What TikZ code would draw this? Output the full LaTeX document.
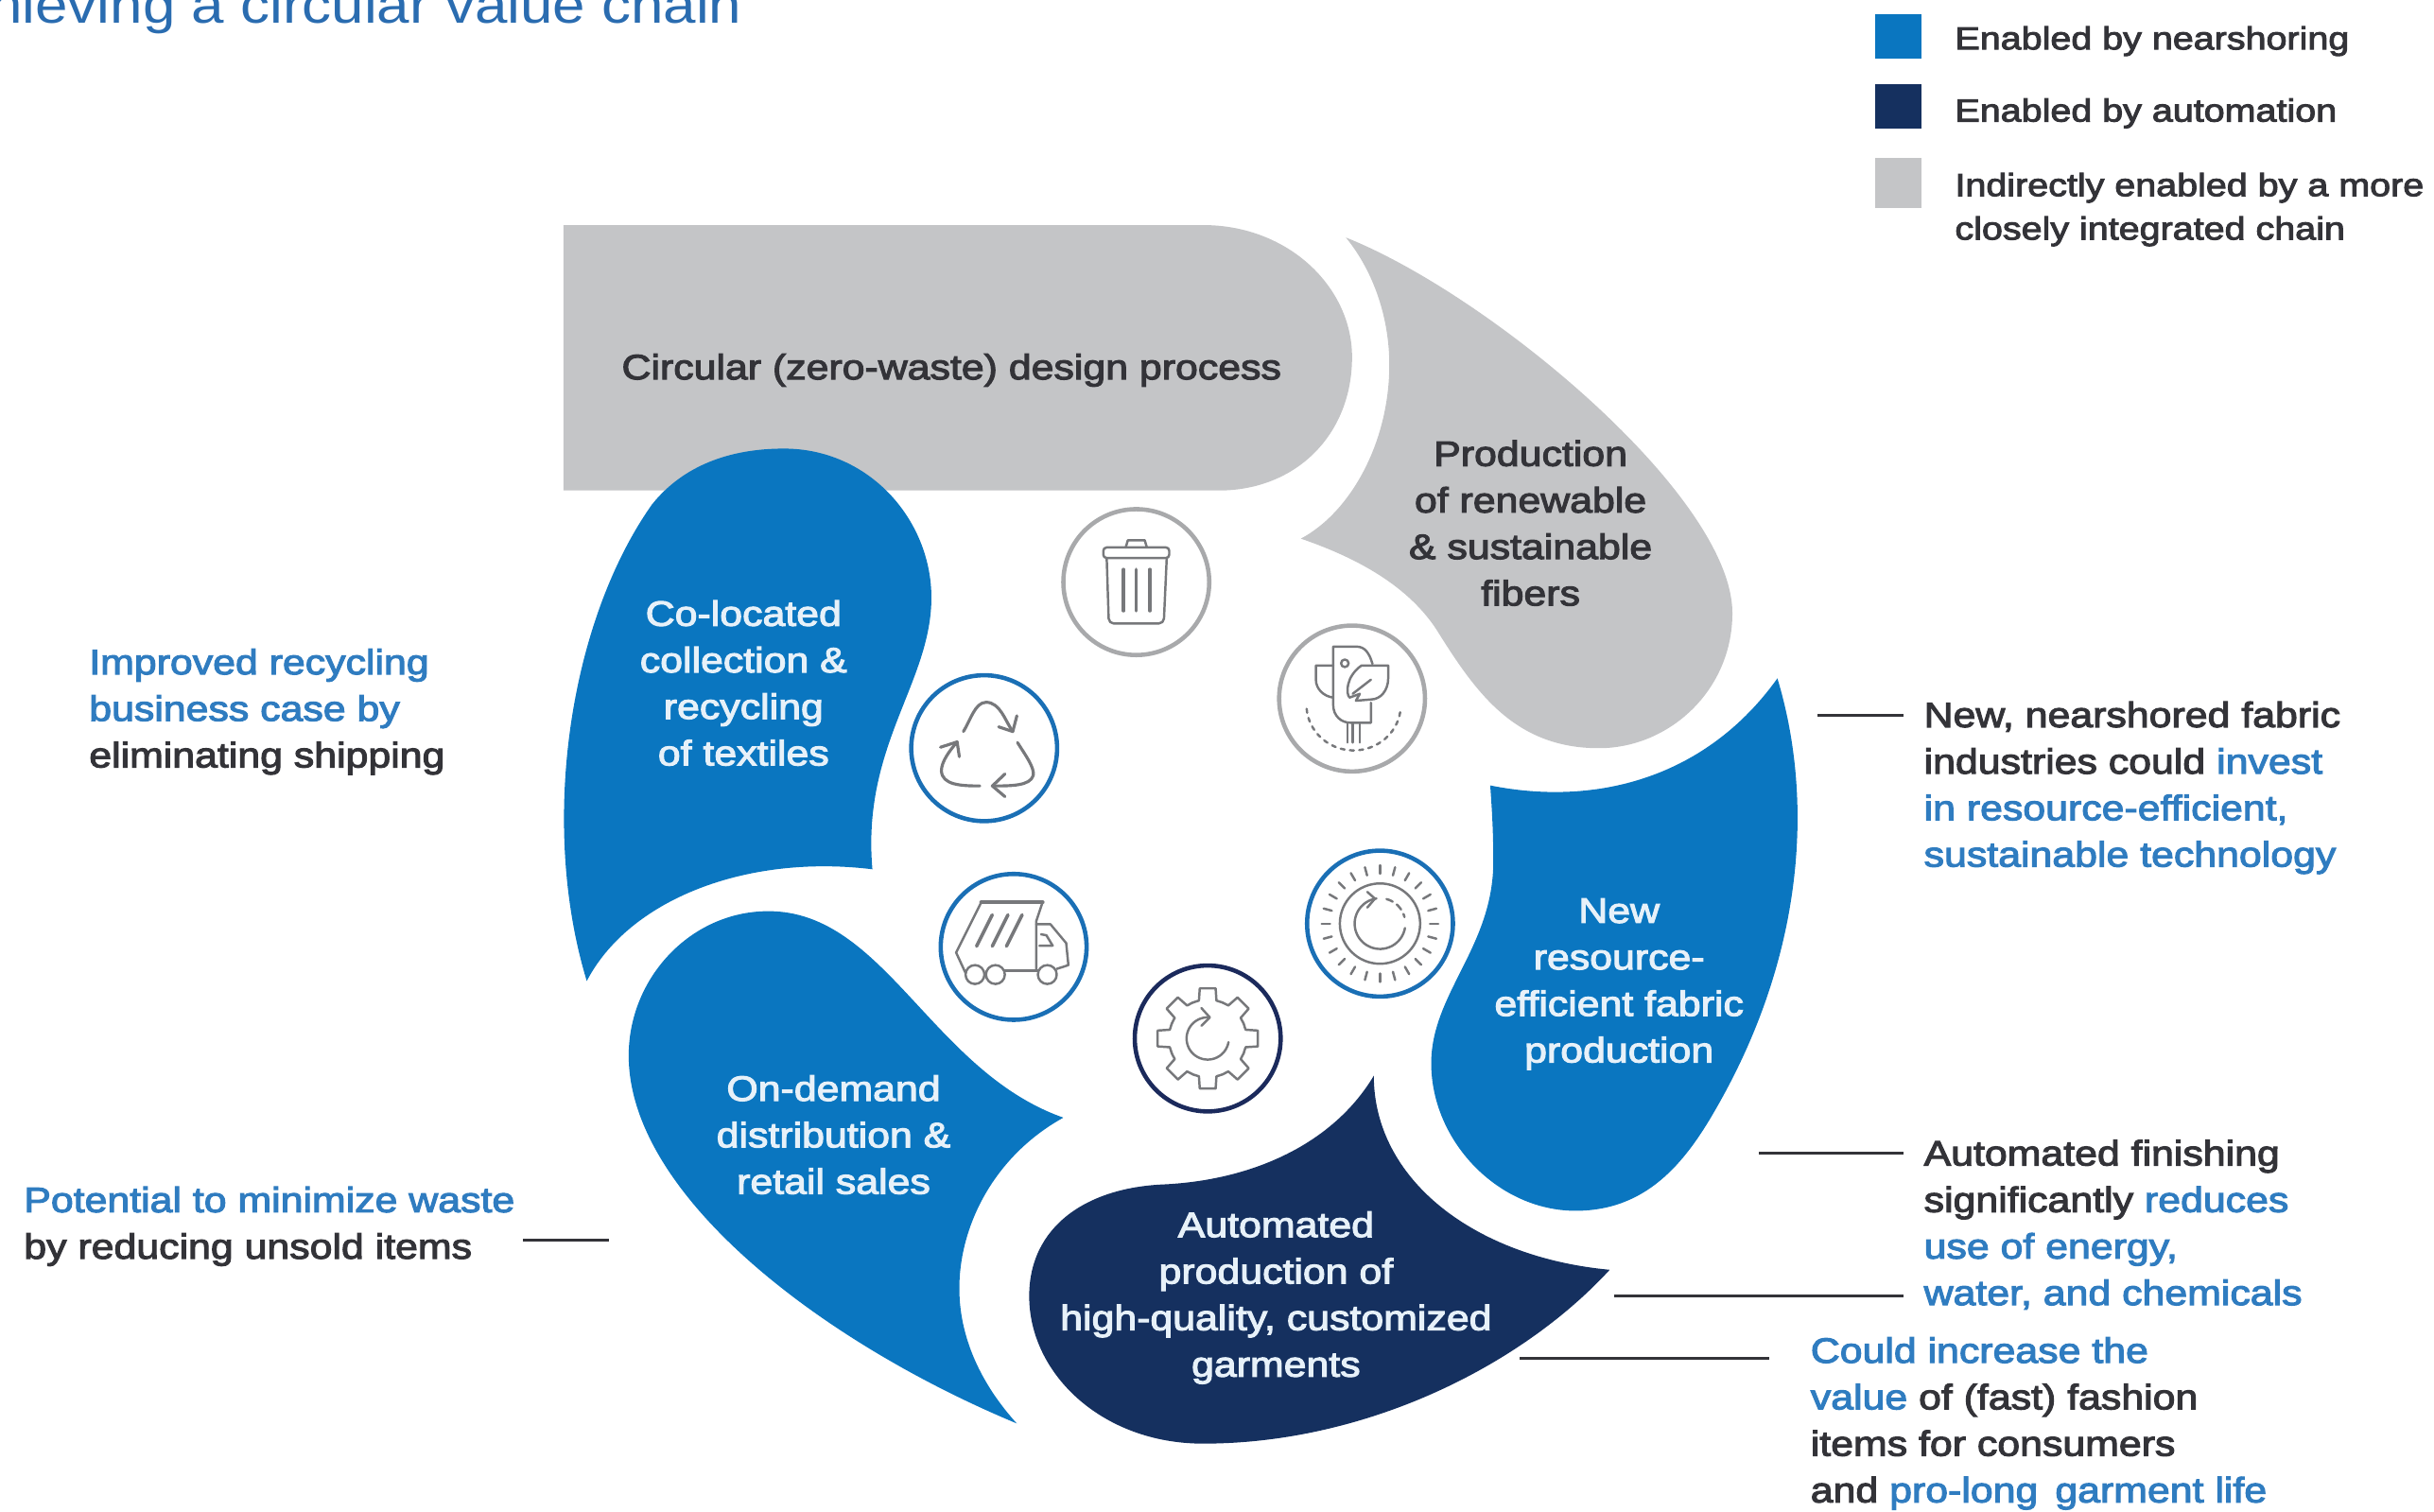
\documentclass[tikz,border=0pt]{standalone}
\usepackage{fontspec}
\setmainfont{Liberation Sans}
\newfontfamily\medf[FakeBold=3,FakeStretch=1.15]{Liberation Sans}
\newfontfamily\legf[FakeBold=3,FakeStretch=1.17]{Liberation Sans}
\newfontfamily\titf[FakeStretch=1.13]{Liberation Sans}
\definecolor{cblue}{HTML}{0A76C0}
\definecolor{cnavy}{HTML}{15305F}
\definecolor{cgray}{HTML}{C4C5C7}
\definecolor{ctext}{HTML}{333338}
\definecolor{ctblue}{HTML}{2F7CC0}
\definecolor{ctitle}{HTML}{2A6CB0}
\definecolor{cring}{HTML}{A8A9AB}
\definecolor{cringb}{HTML}{1A6FB5}
\definecolor{cringn}{HTML}{1B2A5C}
\definecolor{cicon}{HTML}{77787B}
\newcommand{\tb}[1]{\textcolor{ctblue}{#1}}
\tikzset{
  shapeblue/.style={fill=cblue,draw=none},
  shapenavy/.style={fill=cnavy,draw=none},
  shapegray/.style={fill=cgray,draw=none},
  lab/.style={inner sep=0pt,align=center,font=\medf\fontsize{10.6}{14}\selectfont},
  labw/.style={lab,text=white!90!cblue},
  labd/.style={lab,text=ctext},
  side/.style={inner sep=0pt,align=left,anchor=west,text=ctext,font=\medf\fontsize{10.6}{14}\selectfont},
  legtext/.style={inner sep=0pt,align=left,anchor=west,text=ctext,font=\legf\fontsize{9.6}{13.1}\selectfont},
  leader/.style={draw=ctext,line width=0.8pt},
  ring/.style={circle,minimum size=1.543cm,inner sep=0pt,line width=1.3pt,fill=white},
  ico/.style={draw=cicon,line width=0.7pt,line cap=round,line join=round},
  zoomA/.style={x=0.003333cm,y=-0.003333cm},
  zoomB/.style={x=0.004464cm,y=-0.004464cm},
}
\begin{document}
\begin{tikzpicture}[x=0.0164158cm,y=-0.0164158cm]
\useasboundingbox (0,0) rectangle (1568,974);
\clip (0,0) rectangle (1568,974);
% title
\node[inner sep=0pt,anchor=base west,text=ctitle,font=\titf\fontsize{15.6}{18}\selectfont] (title) at (-7,15) {hieving a circular value chain};
% legend
\fill[cblue] (1208,9) rectangle (1238,38);
\fill[cnavy] (1208,54) rectangle (1238,83);
\fill[cgray] (1208,102) rectangle (1238,134);
\node[legtext] (leg1) at (1259,26.5) {Enabled by nearshoring};
\node[legtext] (leg2) at (1259,73) {Enabled by automation};
\node[legtext] (leg3) at (1259,135) {Indirectly enabled by a more\\closely integrated chain};
% shapes
\path[shapegray] (363,145) -- (775,145) .. controls (830,145) and (871,185) .. (871,230) .. controls (871,280) and (835,316) .. (785,316) -- (363,316) -- cycle;
\path[shapegray] (867,153) .. controls (960,190) and (1116,320) .. (1116,395) .. controls (1116,445) and (1075,482) .. (1030,482) .. controls (975,482) and (950,445) .. (925,405) .. controls (905,375) and (870,358) .. (838,347) .. controls (870,330) and (895,285) .. (895,235) .. controls (895,205) and (885,175) .. (867,153) -- cycle;
\path[shapeblue] (1145,437) .. controls (1170,520) and (1160,620) .. (1105,715) .. controls (1085,750) and (1060,780) .. (1015,780) .. controls (965,780) and (922,735) .. (922,685) .. controls (922,640) and (962,610) .. (962,555) .. controls (962,535) and (961,520) .. (960,506) .. controls (1030,520) and (1100,500) .. (1145,437) -- cycle;
\path[shapenavy] (885,693) .. controls (885,760) and (950,810) .. (1037,818) .. controls (980,880) and (880,930) .. (775,930) .. controls (710,930) and (663,885) .. (663,835) .. controls (663,790) and (700,765) .. (750,763) .. controls (810,760) and (860,735) .. (885,693) -- cycle;
\path[shapeblue] (655,917) .. controls (530,865) and (405,770) .. (405,680) .. controls (405,630) and (445,587) .. (495,587) .. controls (570,587) and (600,690) .. (685,720) .. controls (640,745) and (618,790) .. (618,830) .. controls (618,865) and (635,895) .. (655,917) -- cycle;
\path[shapeblue] (378,632) .. controls (347,530) and (367,400) .. (420,325) .. controls (440,300) and (470,289) .. (505,289) .. controls (560,289) and (600,335) .. (600,385) .. controls (600,440) and (555,480) .. (562,560) .. controls (480,550) and (405,580) .. (378,632) -- cycle;
% labels in shapes
\node[labd] (n1) at (613,238.5) {Circular (zero-waste) design process};
\node[labd] (n2) at (986,337) {Production\\of renewable\\\& sustainable\\fibers};
\node[labw] (n3) at (1043,634) {New\\resource-\\efficient fabric\\production};
\node[labw] (n4) at (822,836) {Automated\\production of\\high-quality, customized\\garments};
\node[labw] (n5) at (537,731) {On-demand\\distribution \&\\retail sales};
\node[labw] (n6) at (479,440) {Co-located\\collection \&\\recycling\\of textiles};
% side text
\node[side] (s1) at (57,458.5) {\tb{Improved recycling}\\\tb{business case by}\\eliminating shipping};
\node[side] (s2) at (1239,507.5) {New, nearshored fabric\\industries could \tb{invest}\\\tb{in resource-efficient,}\\\tb{sustainable technology}};
\node[side] (s3) at (1239,789) {Automated finishing\\significantly \tb{reduces}\\\tb{use of energy,}\\\tb{water, and chemicals}};
\node[side] (s4) at (1166,917) {\tb{Could increase the}\\\tb{value} of (fast) fashion\\items for consumers\\and \tb{pro-long\, garment life}};
\node[side] (s5) at (15,790) {\tb{Potential to minimize waste}\\by reducing unsold items};
% leaders
\coordinate (a1) at (1171,461); \coordinate (b1) at (1226,461);
\coordinate (a2) at (1133,743); \coordinate (b2) at (1226,743);
\coordinate (a3) at (1040,835); \coordinate (b3) at (1226,835);
\coordinate (a4) at (979,875); \coordinate (b4) at (1140,875);
\coordinate (a5) at (337,799); \coordinate (b5) at (392,799);
\draw[leader] (a1) -- (b1);
\draw[leader] (a2) -- (b2);
\draw[leader] (a3) -- (b3);
\draw[leader] (a4) -- (b4);
\draw[leader] (a5) -- (b5);
% rings
\node[ring,draw=cring] (r1) at (732,375) {};
\node[ring,draw=cring] (r2) at (871,450) {};
\node[ring,draw=cringb] (r3) at (889,595) {};
\node[ring,draw=cringn] (r4) at (778,669) {};
\node[ring,draw=cringb] (r5) at (653,610) {};
\node[ring,draw=cringb] (r6) at (634,482) {};
% trash
\begin{scope}[shift={(732,375)},zoomB]
\draw[ico,rounded corners=1pt] (-78,-82) rectangle (78,-57);
\draw[ico] (-25,-82) -- (-20,-99) -- (20,-99) -- (25,-82);
\draw[ico,rounded corners=1.5pt] (-70,-57) -- (-65,98) -- (65,98) -- (72,-57);
\draw[ico,line width=1pt] (-30,-30) -- (-30,68) (0,-30) -- (0,68) (32,-30) -- (32,68);
\end{scope}
% bird
\begin{scope}[shift={(871,450)},zoomA]
\begin{scope}[shift={(-270,-265)}]
\draw[ico] (335,155) .. controls (325,120) and (310,100) .. (285,100) -- (210,100) -- (210,285) .. controls (210,320) and (235,342) .. (265,342) -- (330,342) -- (330,278);
\draw[ico] (210,160) -- (155,160) -- (155,205) .. controls (155,235) and (180,258) .. (210,262);
\draw[ico] (300,160) -- (385,160) -- (385,200) .. controls (385,240) and (360,268) .. (330,268) -- (282,272) -- (295,250) -- (262,262) .. controls (250,250) and (250,195) .. (300,160) -- cycle;
\draw[ico] (330,205) -- (272,250);
\draw[ico] (247,153) circle (12);
\draw[ico] (255,345) -- (255,405) (272,345) -- (272,405) (295,345) -- (295,405);
\draw[ico,dashed,dash pattern=on 1.2pt off 1.6pt] plot[domain=175:5,samples=40,variable=\t] ({275+150*cos(\t)},{285+145*sin(\t)});
\end{scope}
\end{scope}
% sun
\begin{scope}[shift={(889,595)},zoomB]
\draw[ico] (0,0) circle (95);
\draw[ico] plot[domain=10:262,samples=40,variable=\t] ({60*cos(\t)},{60*sin(\t)});
\draw[ico] (-30,-75) -- (-12,-59) -- (-30,-38);
\draw[ico,dash pattern=on 2pt off 1.5pt] plot[domain=285:345,samples=12,variable=\t] ({60*cos(\t)},{60*sin(\t)});
\foreach \a in {0,15,...,345}{
  \draw[ico] ({118*cos(\a)},{118*sin(\a)}) -- ({138*cos(\a)},{138*sin(\a)});
}
\end{scope}
% gear
\begin{scope}[shift={(778,669)},zoomB]
\foreach \a in {0,45,...,315}{
  \draw[ico] ({\a-22.5}:92) -- ({\a-13}:92) -- ({\a-9}:120) -- ({\a+9}:120) -- ({\a+13}:92) -- ({\a+22.5}:92);
}
\draw[ico] plot[domain=10:272,samples=40,variable=\t] ({50*cos(\t)},{50*sin(\t)});
\draw[ico] (-15,-72) -- (5,-50) -- (-15,-30);
\end{scope}
% truck
\begin{scope}[shift={(653,610)},zoomA]
\begin{scope}[shift={(-258,-262)}]
\draw[ico,line width=1.2pt] (155,120) -- (350,120);
\draw[ico] (155,120) -- (75,280) -- (105,345);
\draw[ico] (350,120) -- (330,180) -- (330,335);
\draw[ico,line width=1pt] (190,160) -- (140,260) (240,160) -- (190,260) (285,160) -- (235,260);
\draw[ico] (330,190) -- (375,190) -- (425,250) -- (432,320) -- (395,332);
\draw[ico] (228,337) -- (335,337);
\draw[ico] (345,222) -- (362,225) -- (382,258) -- (340,258);
\draw[ico] (135,350) circle (30);
\draw[ico] (200,350) circle (30);
\draw[ico] (365,350) circle (30);
\end{scope}
\end{scope}
% recycle
\begin{scope}[shift={(634,482)},zoomA]
\begin{scope}[shift={(-264,-258)}]
\draw[ico,line width=0.9pt] (198,205) .. controls (220,170) and (235,112) .. (270,112) .. controls (315,112) and (330,170) .. (355,205);
\draw[ico,line width=0.9pt] (310,190) -- (355,205) -- (368,155);
\draw[ico,line width=0.9pt] (370,240) .. controls (395,280) and (425,320) .. (420,345) .. controls (410,378) and (350,378) .. (290,378);
\draw[ico,line width=0.9pt] (330,340) -- (290,378) -- (330,412);
\draw[ico,line width=0.9pt] (250,378) .. controls (190,378) and (130,375) .. (128,330) .. controls (128,300) and (155,265) .. (178,238);
\draw[ico,line width=0.9pt] (125,255) -- (178,238) -- (185,285);
\end{scope}
\end{scope}
\end{tikzpicture}
\end{document}
